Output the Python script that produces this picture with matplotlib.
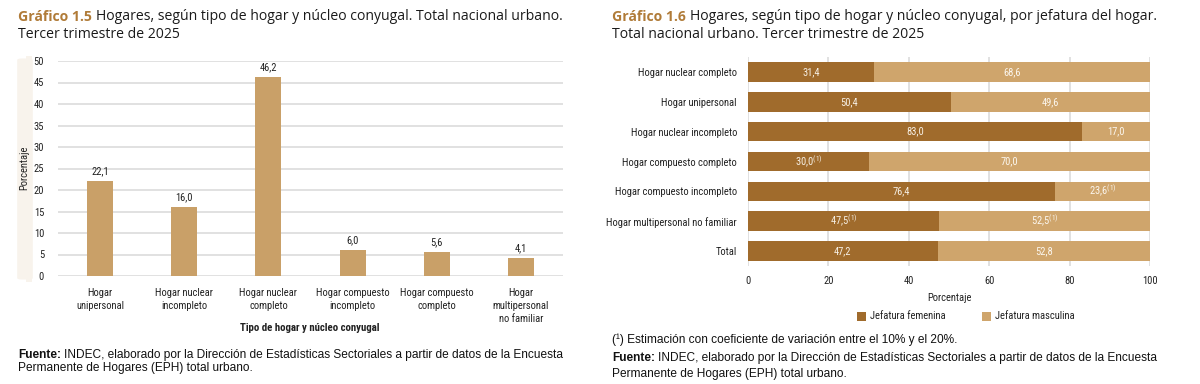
import matplotlib
matplotlib.use("Agg")
import matplotlib.pyplot as plt
from matplotlib import font_manager
from matplotlib.patches import FancyBboxPatch, Rectangle
import numpy as np

# data, left chart
tipos = ["Hogar\nunipersonal", "Hogar nuclear\nincompleto", "Hogar nuclear\ncompleto",
         "Hogar compuesto\nincompleto", "Hogar compuesto\ncompleto",
         "Hogar\nmultipersonal\nno familiar"]
porcentaje = [22.1, 16.0, 46.2, 6.0, 5.6, 4.1]

# data, right chart
tipos_jef = ["Hogar nuclear completo", "Hogar unipersonal", "Hogar nuclear incompleto",
             "Hogar compuesto completo", "Hogar compuesto incompleto",
             "Hogar multipersonal no familiar", "Total"]
femenina = [31.4, 50.4, 83.0, 30.0, 76.4, 47.5, 47.2]
masculina = [68.6, 49.6, 17.0, 70.0, 23.6, 52.5, 52.8]
fem_cv = [False, False, False, True, False, True, False]
masc_cv = [False, False, False, False, True, True, False]

# look for a narrow font (the original uses an Arial Narrow look)
narrow_name, narrow_stretch = "Liberation Sans", "normal"
best = 99
prefs = ["Liberation Sans Narrow", "Roboto Condensed", "Arial Narrow", "DejaVu Sans"]
for f in font_manager.fontManager.ttflist:
    fn = f.fname.lower()
    if ("narrow" in fn or "condensed" in fn) and f.style == "normal" and f.weight in (400, "normal", "regular"):
        rank = prefs.index(f.name) if f.name in prefs else 50
        if rank < best:
            best = rank
            narrow_name, narrow_stretch = f.name, f.stretch

plt.rcParams["font.family"] = [narrow_name, "DejaVu Sans"]
plt.rcParams["font.stretch"] = narrow_stretch
plt.rcParams["mathtext.fontset"] = "custom"
plt.rcParams["mathtext.rm"] = narrow_name
FS = 7.6 if best < 99 else 7.0

W, H = 1200, 384
fig = plt.figure(figsize=(12, 3.84), dpi=100)
fig.patch.set_facecolor("white")

BROWN_T = "#b07b38"
BAR_L = "#c9a068"
FEM = "#a06b2c"
MASC = "#cfa56c"
GRID = "#d9d9d9"
TXT = "#222222"


def ax_px(x0, y0, x1, y1):
    return fig.add_axes([x0 / W, 1 - y1 / H, (x1 - x0) / W, (y1 - y0) / H])


def title(x, y1, y2, lead, rest1, rest2):
    r = fig.canvas.get_renderer()
    t = fig.text(x / W, 1 - y1 / H, lead, fontsize=10.1, fontweight="bold",
                 color=BROWN_T, family="Open Sans", fontstretch="normal", va="center")
    bb = t.get_window_extent(renderer=r)
    fig.text((bb.x1 + 4) / W, 1 - y1 / H, rest1, fontsize=10.1, color="#1a1a1a",
             family="Open Sans", fontstretch="normal", va="center")
    fig.text(x / W, 1 - y2 / H, rest2, fontsize=10.1, color="#1a1a1a",
             family="Open Sans", fontstretch="normal", va="center")


def fuente(x, y1, y2):
    r = fig.canvas.get_renderer()
    kw = dict(fontsize=8.6, family="Liberation Sans", fontstretch="normal",
              color="#111111", va="center")
    t = fig.text(x / W, 1 - y1 / H, "Fuente:", fontweight="bold", **kw)
    bb = t.get_window_extent(renderer=r)
    fig.text((bb.x1 + 3) / W, 1 - y1 / H,
             "INDEC, elaborado por la Dirección de Estadísticas Sectoriales a partir de datos de la Encuesta",
             **kw)
    fig.text(x / W, 1 - y2 / H, "Permanente de Hogares (EPH) total urbano.", **kw)


# ---------- left chart ----------
title(18, 17, 34, "Gráfico 1.5",
      "Hogares, según tipo de hogar y núcleo conyugal. Total nacional urbano.",
      "Tercer trimestre de 2025")

# beige band behind the y label
fig.patches.append(FancyBboxPatch((22 / W, 1 - 278 / H), 6 / W, 218 / H,
                                  boxstyle="round,pad=0.004", transform=fig.transFigure,
                                  fc="#f8f3ec", ec="none", zorder=0))
fig.patches.append(Rectangle((26 / W, 1 - 282 / H), 6 / W, 226 / H,
                             transform=fig.transFigure, fc="#f8f3ec", ec="none", zorder=0))

ax1 = ax_px(58, 61, 563, 276)
x = np.arange(len(tipos))
ax1.bar(x, porcentaje, width=0.31, color=BAR_L, zorder=3)
for xi, v in zip(x, porcentaje):
    ax1.text(xi, v + 1.2, f"{v:.1f}".replace(".", ","), ha="center", va="bottom",
             fontsize=FS, color=TXT)
ax1.set_xlim(-0.5, 5.5)
ax1.set_ylim(0, 50)
ax1.set_yticks(range(0, 51, 5))
ax1.set_xticks(x)
ax1.set_xticklabels(tipos, fontsize=FS, color=TXT, linespacing=1.35, va="top")
ax1.tick_params(axis="y", length=0, pad=10, labelsize=FS, labelcolor=TXT)
ax1.tick_params(axis="x", length=0, pad=9)
ax1.grid(axis="y", color=GRID, lw=1.1, zorder=0)
for s in ax1.spines.values():
    s.set_visible(False)
fig.text(24 / W, 1 - 168 / H, "Porcentaje", rotation=90, ha="center", va="center",
         fontsize=FS, color=TXT)
fig.text(310 / W, 1 - 328 / H, "Tipo de hogar y núcleo conyugal", ha="center",
         va="center", fontsize=FS + 0.2, fontweight="bold", color=TXT)
fuente(18, 355, 368)

# ---------- right chart ----------
title(612, 17, 34, "Gráfico 1.6",
      "Hogares, según tipo de hogar y núcleo conyugal, por jefatura del hogar.",
      "Total nacional urbano. Tercer trimestre de 2025")

ax2 = ax_px(748, 57, 1150, 266)
y = np.arange(len(tipos_jef))
ax2.barh(y, femenina, height=0.66, color=FEM, zorder=3, label="Jefatura femenina")
ax2.barh(y, masculina, left=femenina, height=0.66, color=MASC, zorder=3,
         label="Jefatura masculina")


def lab(v, cv):
    s = f"{v:.1f}".replace(".", ",")
    return s + r"$^{(1)}$" if cv else s


for yi, f, m, fc, mc in zip(y, femenina, masculina, fem_cv, masc_cv):
    ax2.text(f / 2, yi, lab(f, fc), ha="center", va="center", fontsize=FS,
             color="#f6efe4", zorder=4)
    ax2.text(f + m / 2, yi, lab(m, mc), ha="center", va="center", fontsize=FS,
             color="#fbf6ee", zorder=4)

ax2.set_xlim(0, 100)
ax2.set_ylim(6.5, -0.5)
ax2.set_xticks(range(0, 101, 20))
ax2.set_yticks(y)
ax2.set_yticklabels(tipos_jef, fontsize=FS, color=TXT)
ax2.tick_params(axis="y", length=0, pad=8)
ax2.tick_params(axis="x", length=0, pad=7, labelsize=FS, labelcolor=TXT)
ax2.grid(axis="x", color=GRID, lw=1.1, zorder=0)
for s in ax2.spines.values():
    s.set_visible(False)
ax2.set_xlabel("Porcentaje", fontsize=FS, color=TXT, labelpad=5)

# legend
for lx, c, t in [(857, FEM, "Jefatura femenina"), (982, MASC, "Jefatura masculina")]:
    fig.patches.append(Rectangle((lx / W, 1 - 321 / H), 9 / W, 9 / H,
                                 transform=fig.transFigure, fc=c, ec="none"))
    fig.text((lx + 13) / W, 1 - 316 / H, t, fontsize=FS, color=TXT, va="center")

fig.text(612 / W, 1 - 340 / H,
         "(¹) Estimación con coeficiente de variación entre el 10% y el 20%.",
         fontsize=8.6, family="Liberation Sans", fontstretch="normal",
         color="#111111", va="center")
fuente(612, 358, 374)

fig.savefig("out.png", dpi=100)
